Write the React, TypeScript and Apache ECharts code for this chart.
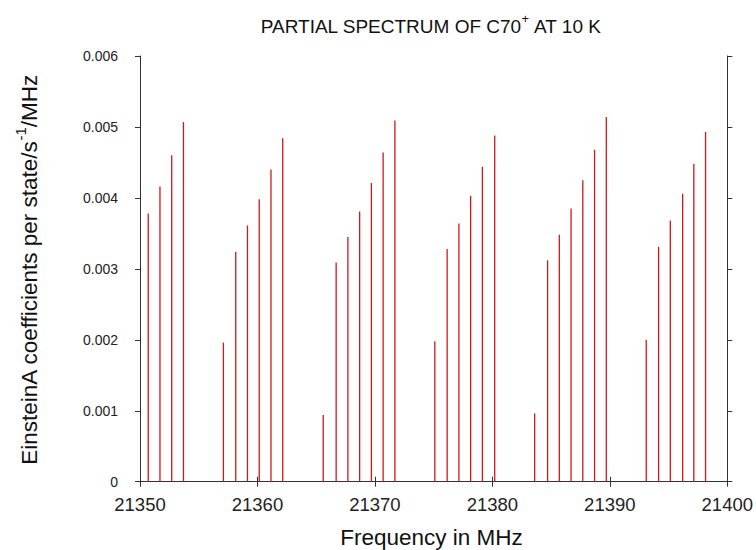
import React, { useEffect, useRef } from "react";
import * as echarts from "echarts";

const group1Freq = [21350.7, 21351.7, 21352.7, 21353.7];
const group1Val = [0.00378, 0.00416, 0.0046, 0.00507];
const group2Freq = [21357.1, 21358.15, 21359.15, 21360.15, 21361.15, 21362.15];
const group2Val = [0.00196, 0.00324, 0.00361, 0.00398, 0.0044, 0.00484];
const group3Freq = [21365.6, 21366.7, 21367.7, 21368.7, 21369.7, 21370.7, 21371.7];
const group3Val = [0.00094, 0.00309, 0.00345, 0.00381, 0.00421, 0.00464, 0.00509];
const group4Freq = [21375.1, 21376.15, 21377.15, 21378.15, 21379.15, 21380.2];
const group4Val = [0.00198, 0.00328, 0.00364, 0.00403, 0.00444, 0.00488];
const group5Freq = [21383.6, 21384.7, 21385.7, 21386.7, 21387.7, 21388.7, 21389.7];
const group5Val = [0.00096, 0.00312, 0.00348, 0.00385, 0.00425, 0.00468, 0.00514];
const group6Freq = [21393.1, 21394.15, 21395.15, 21396.2, 21397.15, 21398.15];
const group6Val = [0.002, 0.00331, 0.00368, 0.00406, 0.00448, 0.00493];

const xTicks = [21350, 21360, 21370, 21380, 21390, 21400];
const yTicks = [0, 0.001, 0.002, 0.003, 0.004, 0.005, 0.006];

const FONT = "Liberation Sans";

export default function App() {
  const ref = useRef<HTMLDivElement>(null);
  useEffect(() => {
    if (!ref.current) return;
    const chart = echarts.init(ref.current, undefined, { renderer: "svg" });
    const freqs = [...group1Freq, ...group2Freq, ...group3Freq, ...group4Freq, ...group5Freq, ...group6Freq];
    const vals = [...group1Val, ...group2Val, ...group3Val, ...group4Val, ...group5Val, ...group6Val];
    const data = freqs.map((f, i) => [f, vals[i]]);
    const axisLine = { show: true, lineStyle: { color: "#333", width: 1 } };
    const axisTick = { show: true, inside: false, length: 5, lineStyle: { color: "#333" } };
    const left = 140, right = 28.5, top = 56, bottom = 68.3;
    const cy = top + (550 - top - bottom) / 2;
    chart.setOption({
      animation: false,
      backgroundColor: "#fff",
      grid: { left, right, top, bottom, containLabel: false },
      xAxis: [
        {
          type: "value",
          min: xTicks[0],
          max: xTicks[xTicks.length - 1],
          interval: 10,
          position: "bottom",
          axisLine,
          axisTick,
          splitLine: { show: false },
          axisLabel: {
            fontFamily: FONT,
            fontSize: 18.5,
            color: "#222",
            margin: 13,
            formatter: (v: number) => String(v),
          },
        },
        {
          type: "value",
          min: xTicks[0],
          max: xTicks[xTicks.length - 1],
          interval: 10,
          position: "top",
          axisLine,
          axisTick,
          splitLine: { show: false },
          axisLabel: { show: false },
        },
      ],
      yAxis: [
        {
          type: "value",
          min: yTicks[0],
          max: yTicks[yTicks.length - 1],
          interval: 0.001,
          position: "left",
          axisLine,
          axisTick,
          splitLine: { show: false },
          axisLabel: { fontFamily: FONT, fontSize: 14, color: "#222", margin: 22 },
        },
        {
          type: "value",
          min: yTicks[0],
          max: yTicks[yTicks.length - 1],
          interval: 0.001,
          position: "right",
          axisLine,
          axisTick,
          splitLine: { show: false },
          axisLabel: { show: false },
        },
      ],
      series: [
        {
          type: "custom",
          xAxisIndex: 0,
          yAxisIndex: 0,
          data,
          encode: { x: 0, y: 1 },
          renderItem: (params: any, api: any) => {
            const p0 = api.coord([api.value(0), 0]);
            const p1 = api.coord([api.value(0), api.value(1)]);
            return {
              type: "line",
              shape: { x1: p0[0], y1: p0[1], x2: p1[0], y2: p1[1] },
              style: { stroke: "#cc1a1a", lineWidth: 1.3 },
            };
          },
        },
      ],
      graphic: [
        {
          type: "text",
          x: 431,
          y: 24,
          style: {
            text: "{n|PARTIAL SPECTRUM OF C70}{s|+}{n| AT 10 K}",
            align: "center",
            verticalAlign: "middle",
            rich: {
              n: { fontFamily: FONT, fontSize: 19, fill: "#111", lineHeight: 24, verticalAlign: "bottom" },
              s: { fontFamily: FONT, fontSize: 13, fill: "#111", lineHeight: 24, verticalAlign: "top" },
            },
          },
        },
        {
          type: "text",
          x: 27,
          y: 270,
          rotation: Math.PI / 2,
          style: {
            text: "{n|EinsteinA coefficients per state/s}{s|-1}{n|/MHz}",
            align: "center",
            verticalAlign: "middle",
            rich: {
              n: { fontFamily: FONT, fontSize: 22.5, fill: "#111", lineHeight: 28, verticalAlign: "bottom" },
              s: { fontFamily: FONT, fontSize: 15, fill: "#111", lineHeight: 28, verticalAlign: "top" },
            },
          },
        },
        {
          type: "text",
          x: 431.5,
          y: 537,
          style: {
            text: "Frequency in MHz",
            fontFamily: FONT,
            fontSize: 22.5,
            fill: "#111",
            align: "center",
            verticalAlign: "middle",
          },
        },
      ],
    });
    return () => chart.dispose();
  }, []);
  return <div ref={ref} style={{ width: 756, height: 550, position: "absolute", left: 0, top: 0 }} />;
}
